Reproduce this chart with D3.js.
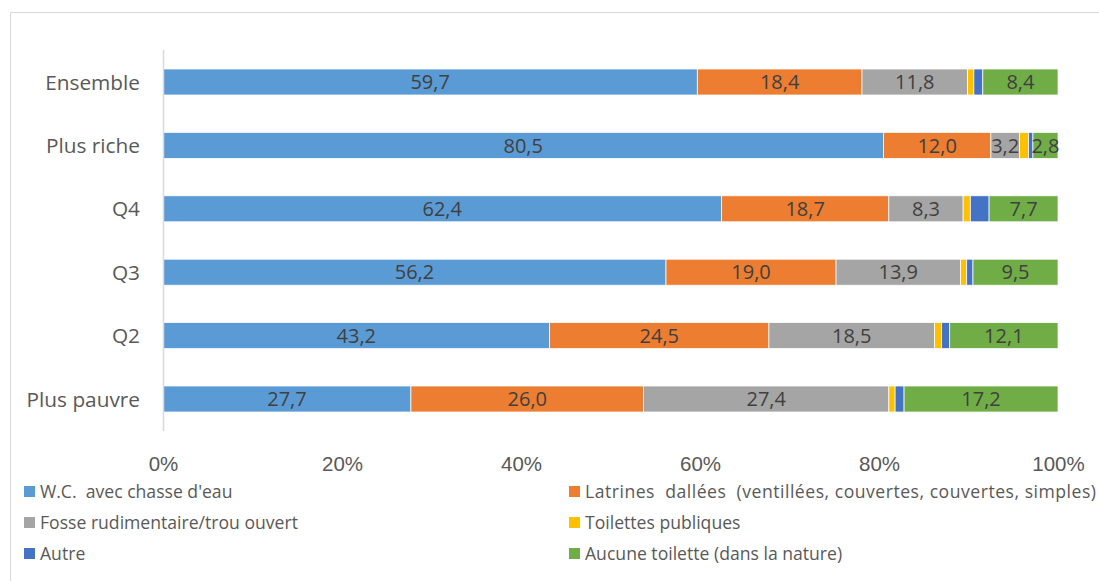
<!DOCTYPE html>
<html><head><meta charset="utf-8">
<script src="https://cdn.jsdelivr.net/npm/d3@7"></script>
<style>body{margin:0;background:#fff;} svg{display:block;font-family:"Open Sans","Noto Sans",sans-serif;}</style>
</head><body><svg id="c" width="1099" height="581"></svg>
<script>
const categories = ["Ensemble","Plus riche","Q4","Q3","Q2","Plus pauvre"];
const seriesNames = ["W.C.  avec chasse d'eau","Latrines  dallées  (ventillées, couvertes, couvertes, simples)","Fosse rudimentaire/trou ouvert","Toilettes publiques","Autre","Aucune toilette (dans la nature)"];
const wc        = [59.7, 80.5, 62.4, 56.2, 43.2, 27.7];
const latrines  = [18.4, 12.0, 18.7, 19.0, 24.5, 26.0];
const fosse     = [11.8, 3.2, 8.3, 13.9, 18.5, 27.4];
const publiques = [0.7, 1.0, 0.8, 0.7, 0.8, 0.7];
const autre     = [1.0, 0.5, 2.1, 0.7, 0.9, 1.0];
const aucune    = [8.4, 2.8, 7.7, 9.5, 12.1, 17.2];
const tickLabels = ["0%","20%","40%","60%","80%","100%"];
const colors = ["#5B9BD5","#ED7D31","#A5A5A5","#FFC000","#4472C4","#70AD47"];
const showLabel = [true,true,true,false,false,true];

const series = [wc, latrines, fosse, publiques, autre, aucune];
const svg = d3.select("#c");

// frame
svg.append("path").attr("d","M10.5,581 V12.5 H1099").attr("fill","none").attr("stroke","#d9d9d9").attr("stroke-width",1);

const x = d3.scaleLinear().domain([0,100]).range([163,1058]);
const y = d3.scaleBand().domain(categories).range([50.3,430.7]).paddingInner(0.59).paddingOuter(0.295);

const rows = categories.map((c,i)=>{
  let acc=0; return series.map((s,k)=>{const v=s[i]; const o={cat:c,k,v,x0:acc,x1:acc+v}; acc+=v; return o;});
});

const g = svg.append("g");
rows.forEach(r=>{
  g.selectAll(null).data(r).enter().append("rect")
    .attr("x",d=>x(d.x0)).attr("width",d=>x(d.x1)-x(d.x0))
    .attr("y",d=>y(d.cat)).attr("height",y.bandwidth())
    .attr("fill",d=>colors[d.k]).attr("stroke","#fff").attr("stroke-width",0.75);
  g.selectAll(null).data(r.filter(d=>showLabel[d.k])).enter().append("text")
    .attr("x",d=>x((d.x0+d.x1)/2)).attr("y",d=>y(d.cat)+y.bandwidth()/2)
    .attr("dy","0.36em").attr("text-anchor","middle")
    .attr("font-size",20).attr("fill","#404040")
    .text(d=>d.v.toFixed(1).replace(".",","));
});

// axis line
svg.append("line").attr("x1",163.5).attr("x2",163.5).attr("y1",50).attr("y2",431).attr("stroke","#d9d9d9").attr("stroke-width",1.5);

// category labels
svg.selectAll(".cl").data(categories).enter().append("text")
  .attr("x",140).attr("y",d=>y(d)+y.bandwidth()/2).attr("dy","0.37em")
  .attr("text-anchor","end").attr("font-size",20.8).attr("fill","#595959").text(d=>d);

// x ticks
const xa = d3.axisBottom(x).tickValues([0,20,40,60,80,100]).tickSize(0).tickFormat((d,i)=>tickLabels[i]);
const ax = svg.append("g").attr("transform","translate(0,470.5)").call(xa);
ax.select(".domain").remove();
ax.selectAll("text").attr("y",0).attr("dy",null).attr("font-size",20.5).attr("fill","#595959").attr("font-family","inherit");

// legend
const lx = [24, 569], ly = [491.5, 522.5, 553.5];
seriesNames.forEach((n,i)=>{
  const col = i%2, row = Math.floor(i/2);
  const lg = svg.append("g").attr("transform",`translate(${lx[col]},${ly[row]})`);
  lg.append("rect").attr("x",0).attr("y",-5.5).attr("width",11).attr("height",11).attr("fill",colors[i]);
  const t = lg.append("text").attr("x",16).attr("dy","0.36em").attr("font-size",17.6).attr("fill","#595959").attr("xml:space","preserve").style("white-space","pre").text(n);
  if (i===1) t.attr("textLength",511).attr("lengthAdjust","spacing");
});
</script></body></html>
